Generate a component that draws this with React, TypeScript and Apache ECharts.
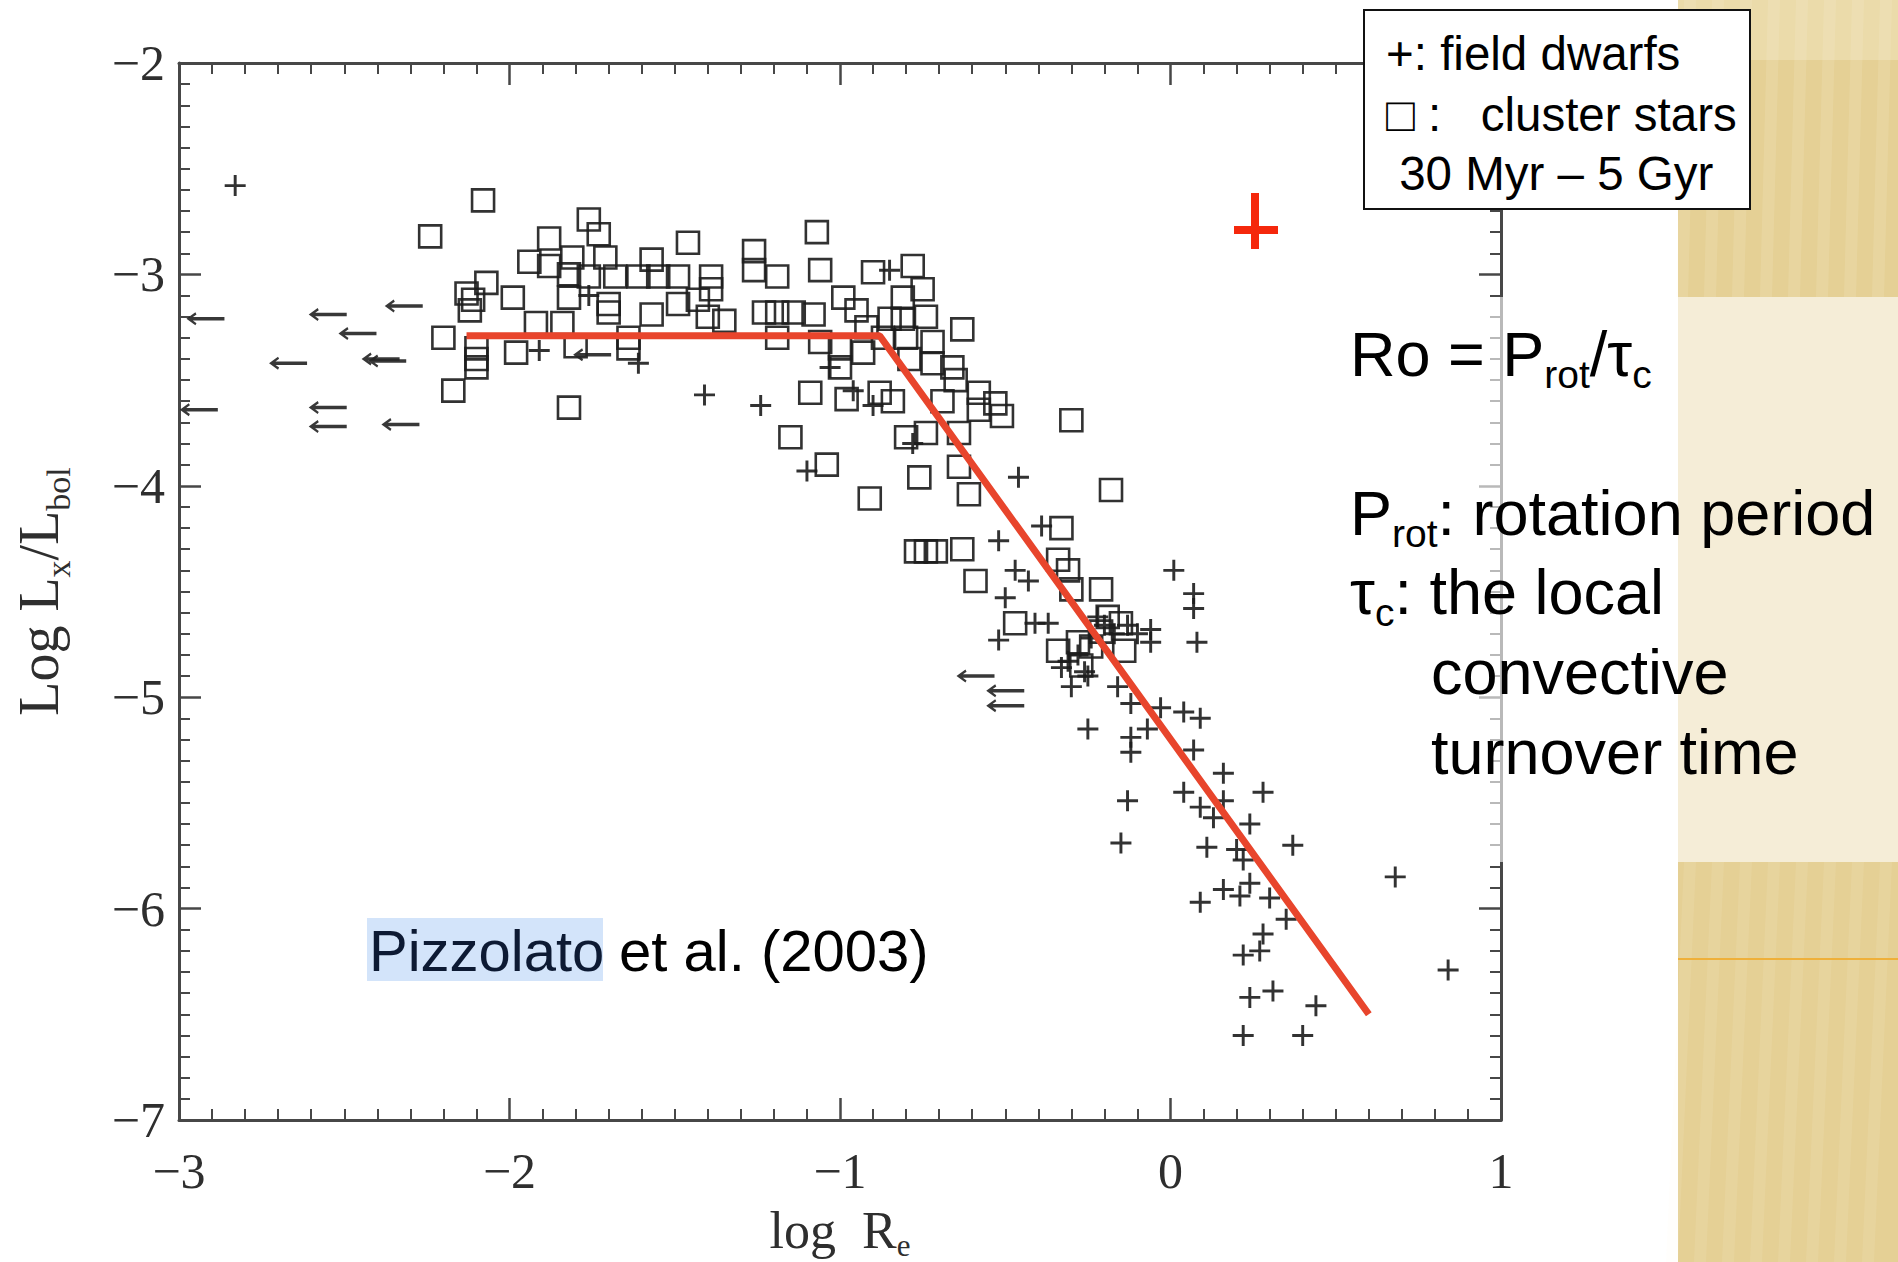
import React, { useEffect, useRef } from "react";
import * as echarts from "echarts";

// ---- data (log Ro, log Lx/Lbol) ----
const xTickValues = [-3, -2, -1, 0, 1];
const yTickValues = [-7, -6, -5, -4, -3, -2];

const clusterStars: [number, number][] = [
  [-2.08, -2.65], [-2.24, -2.82], [-1.88, -2.83], [-1.76, -2.74], [-1.73, -2.81], [-1.94, -2.94],
  [-1.88, -2.96], [-1.81, -2.92], [-1.71, -2.92], [-1.82, -3.0], [-1.76, -3.01], [-1.68, -3.01],
  [-1.57, -2.93], [-1.61, -3.01], [-1.55, -3.01], [-1.49, -3.01], [-1.46, -2.85], [-1.39, -3.01],
  [-2.07, -3.04], [-2.11, -3.12], [-2.12, -3.17], [-2.13, -3.09], [-1.99, -3.11], [-1.82, -3.11],
  [-1.7, -3.14], [-1.7, -3.18], [-1.57, -3.19], [-1.49, -3.14], [-1.43, -3.12], [-1.39, -3.07],
  [-1.4, -3.2], [-1.35, -3.22], [-1.26, -2.89], [-1.26, -2.98], [-1.19, -3.01], [-1.23, -3.18],
  [-1.19, -3.18], [-1.14, -3.18], [-1.19, -3.3], [-1.92, -3.23], [-1.84, -3.23], [-1.64, -3.3],
  [-1.64, -3.35], [-2.2, -3.3], [-2.1, -3.35], [-2.1, -3.4], [-2.1, -3.44], [-1.98, -3.37],
  [-1.8, -3.34], [-2.17, -3.55], [-1.82, -3.63], [-1.15, -3.77],
  [-1.07, -2.8], [-1.06, -2.98], [-0.9, -2.99], [-0.78, -2.96], [-0.75, -3.07], [-0.81, -3.11],
  [-1.08, -3.19], [-0.99, -3.11], [-0.85, -3.21], [-0.81, -3.21], [-0.74, -3.2], [-0.63, -3.26],
  [-0.8, -3.3], [-0.72, -3.32], [-1.06, -3.32], [-1.0, -3.35], [-0.93, -3.37], [-0.79, -3.4],
  [-0.72, -3.42], [-1.0, -3.44], [-0.66, -3.44], [-0.65, -3.5], [-1.09, -3.56], [-0.98, -3.59],
  [-0.88, -3.56], [-0.84, -3.6], [-0.69, -3.6], [-0.58, -3.56], [-0.53, -3.61], [-0.51, -3.67],
  [-0.58, -3.64], [-0.3, -3.69], [-0.8, -3.77], [-0.74, -3.75], [-0.64, -3.75], [-1.04, -3.9],
  [-0.76, -3.96], [-0.64, -3.91], [-0.91, -4.06], [-0.61, -4.04], [-0.18, -4.02], [-0.95, -3.17],
  [-0.92, -3.25], [-0.87, -3.3],
  [-0.33, -4.2], [-0.59, -4.45], [-0.34, -4.35], [-0.31, -4.4], [-0.3, -4.49], [-0.21, -4.49],
  [-0.47, -4.65], [-0.19, -4.62], [-0.15, -4.65], [-0.34, -4.78], [-0.28, -4.74], [-0.24, -4.76],
  [-0.14, -4.78], [-0.27, -4.85], [-0.21, -4.69], [-0.77, -4.31], [-0.74, -4.31], [-0.71, -4.31],
  [-0.63, -4.3],
];

const fieldDwarfs: [number, number][] = [
  [-2.83, -2.58], [-1.91, -3.36], [-1.76, -3.1], [-1.61, -3.42], [-1.41, -3.57], [-1.24, -3.62],
  [-1.1, -3.93], [-0.85, -2.98], [-1.03, -3.44], [-0.78, -3.8], [-0.96, -3.55], [-0.9, -3.62],
  [-0.46, -3.96], [-0.39, -4.19], [-0.52, -4.26], [-0.47, -4.4], [-0.43, -4.45], [-0.5, -4.53],
  [-0.52, -4.73], [-0.37, -4.65], [-0.41, -4.65], [-0.33, -4.86], [-0.3, -4.95], [-0.25, -4.9],
  [-0.06, -4.68], [-0.06, -4.74], [0.01, -4.4], [0.07, -4.51], [0.07, -4.58], [0.08, -4.74],
  [-0.16, -4.95], [-0.12, -5.03], [-0.03, -5.05], [0.04, -5.07], [0.09, -5.1], [-0.25, -5.15],
  [-0.07, -5.15], [-0.12, -5.19], [-0.12, -5.26], [0.07, -5.25], [0.16, -5.36], [-0.22, -4.62],
  [-0.2, -4.66], [-0.17, -4.7], [-0.24, -4.72], [-0.28, -4.8], [-0.31, -4.83], [-0.26, -4.88],
  [-0.13, -4.66], [-0.1, -4.7], [-0.13, -5.49], [0.04, -5.45], [0.09, -5.52], [0.13, -5.57],
  [0.16, -5.49], [0.28, -5.45], [0.24, -5.6], [-0.15, -5.69], [0.11, -5.71], [0.2, -5.72],
  [0.22, -5.77], [0.37, -5.7], [0.68, -5.85], [0.16, -5.91], [0.09, -5.97], [0.21, -5.94],
  [0.24, -5.88], [0.3, -5.95], [0.35, -6.05], [0.28, -6.12], [0.22, -6.22], [0.27, -6.2],
  [0.84, -6.29], [0.31, -6.39], [0.24, -6.42], [0.44, -6.46], [0.22, -6.6], [0.4, -6.6],
];

const upperLimits: [number, number][] = [
  [-2.92, -3.21], [-2.94, -3.64], [-2.67, -3.42], [-2.55, -3.19], [-2.46, -3.28], [-2.39, -3.4],
  [-2.37, -3.41], [-2.55, -3.63], [-2.55, -3.72], [-2.33, -3.71], [-2.32, -3.15], [-1.75, -3.38],
  [-0.59, -4.9], [-0.5, -4.97], [-0.5, -5.04],
];

const fitLine: [number, number][] = [
  [-2.13, -3.29], [-0.88, -3.29], [0.6, -6.5],
];

const legendLines = ["+: field dwarfs", "□ :   cluster stars", " 30 Myr – 5 Gyr"];
const citation = ["Pizzolato", " et al. (2003)"];

// ---- styling helpers ----
const SERIF = "'Liberation Serif', 'Times New Roman', serif";
const SANS = "'Liberation Sans', Arial, sans-serif";
const AXIS_COLOR = "#474747";
const MARK_COLOR = "#1c1c1c";

const fmt = (v: number) => (v < 0 ? "\u2212" + Math.abs(v) : String(v));

const PLUS = "path://M8.6,0H11.4V20H8.6ZM0,8.6H20V11.4H0Z";
const ARROW = "path://M0,5L8,0.2L9,1.8L3.6,5L9,8.2L8,9.8ZM2,3.7H34V6.3H2Z";

function buildAxis(kind: "x" | "y", pos: string, labels: boolean, ticks: number[]) {
  return {
    type: "value",
    position: pos,
    min: ticks[0],
    max: ticks[ticks.length - 1],
    interval: 1,
    axisLine: { show: true, onZero: false, lineStyle: { color: AXIS_COLOR, width: 3 } },
    axisTick: { show: true, inside: true, length: 22, lineStyle: { color: AXIS_COLOR, width: 2.5 } },
    minorTick: { show: true, splitNumber: 10, length: 11, lineStyle: { color: AXIS_COLOR, width: 2 } },
    splitLine: { show: false },
    axisLabel: labels
      ? {
          show: true,
          formatter: fmt,
          fontFamily: SERIF,
          fontSize: 50,
          color: "#2e2e2e",
          margin: kind === "x" ? 26 : 14,
        }
      : { show: false },
  };
}

export default function App() {
  const ref = useRef<HTMLDivElement>(null);

  useEffect(() => {
    const chart = echarts.init(ref.current as HTMLDivElement, undefined, { renderer: "svg" });

    const W = 1898;
    const panelX = 1678;
    const stripes: any[] = [];
    for (let i = 0; i < 8; i++) {
      const x0 = panelX + 6 + i * 28;
      stripes.push({
        type: "polygon",
        z: 1,
        silent: true,
        shape: { points: [[x0, 0], [x0 + 12, 0], [x0 + 4, 297], [x0 - 8, 297]] },
        style: { fill: "rgba(255,250,230,0.13)" },
      });
      stripes.push({
        type: "polygon",
        z: 1,
        silent: true,
        shape: { points: [[x0, 862], [x0 + 12, 862], [x0 - 6, 1262], [x0 - 18, 1262]] },
        style: { fill: "rgba(255,250,230,0.11)" },
      });
    }

    const subRich = (main: number, sub: number, drop: number, font: string, color: string) => ({
      a: { fontSize: main, fontFamily: font, fill: color, color, lineHeight: main + drop * 2 },
      s: {
        fontSize: sub,
        fontFamily: font,
        fill: color,
        color,
        lineHeight: sub,
        padding: [main + drop * 2 - sub, 0, 0, 0],
      },
    });

    const bigRich = subRich(63, 39, 8, SANS, "#000");

    const textEl = (x: number, y: number, text: string, rich?: any, extra?: any) => ({
      type: "text",
      x,
      y,
      z: 30,
      silent: true,
      style: Object.assign(
        {
          text,
          fill: "#000",
          fontFamily: SANS,
          fontSize: 63,
          align: "left",
          verticalAlign: "middle",
          textAlign: "left",
          textVerticalAlign: "middle",
        },
        rich ? { rich } : {},
        extra || {}
      ),
    });

    const option: any = {
      animation: false,
      backgroundColor: "#ffffff",
      grid: {
        left: 179,
        top: 63,
        width: 1322,
        height: 1057,
        containLabel: false,
        outerBoundsMode: "none",
      },
      xAxis: [
        Object.assign(buildAxis("x", "bottom", true, xTickValues), {
          name: "{a|log  R}{s|e}",
          nameLocation: "middle",
          nameGap: 76,
          nameTextStyle: {
            fontFamily: SERIF,
            fontSize: 52,
            color: "#2e2e2e",
            rich: subRich(52, 31, 4, SERIF, "#2e2e2e"),
          },
        }),
        buildAxis("x", "top", false, xTickValues),
      ],
      yAxis: [
        Object.assign(buildAxis("y", "left", true, yTickValues), {
          name: "{a|Log L}{s|x}{a|/L}{s|bol}",
          nameLocation: "middle",
          nameRotate: 90,
          nameGap: 104,
          nameTextStyle: {
            fontFamily: SERIF,
            fontSize: 56,
            color: "#2e2e2e",
            rich: subRich(56, 34, 8, SERIF, "#2e2e2e"),
          },
        }),
        buildAxis("y", "right", false, yTickValues),
      ],
      series: [
        {
          type: "scatter",
          name: "cluster stars",
          data: clusterStars,
          symbol: "rect",
          symbolSize: 22,
          z: 3,
          itemStyle: { color: "rgba(0,0,0,0)", borderColor: MARK_COLOR, borderWidth: 2.6, opacity: 0.9 },
          silent: true,
        },
        {
          type: "scatter",
          name: "field dwarfs",
          data: fieldDwarfs,
          symbol: PLUS,
          symbolSize: 21,
          z: 3,
          itemStyle: { color: MARK_COLOR, opacity: 0.9 },
          silent: true,
        },
        {
          type: "scatter",
          name: "upper limits",
          data: upperLimits,
          symbol: ARROW,
          symbolSize: [38, 13],
          z: 3,
          itemStyle: { color: "#222", opacity: 0.9 },
          silent: true,
        },
        {
          type: "line",
          name: "fit",
          data: fitLine,
          symbol: "none",
          z: 4,
          lineStyle: { color: "#e8452c", width: 7 },
          silent: true,
        },
      ],
      graphic: [
        // decorative right panel
        {
          type: "rect",
          z: 0,
          silent: true,
          shape: { x: panelX, y: 0, width: W - panelX, height: 1262 },
          style: { fill: "#e5d095" },
        },
        {
          type: "rect",
          z: 0,
          silent: true,
          shape: { x: panelX, y: 0, width: W - panelX, height: 60 },
          style: { fill: "rgba(255,250,235,0.25)" },
        },
        ...stripes,
        {
          type: "line",
          z: 2,
          silent: true,
          shape: { x1: panelX, y1: 959, x2: W, y2: 959 },
          style: { stroke: "#efb03a", lineWidth: 2 },
        },
        // translucent text box
        {
          type: "rect",
          z: 10,
          silent: true,
          shape: { x: 1338, y: 297, width: W - 1338, height: 565 },
          style: { fill: "rgba(255,255,255,0.62)" },
        },
        // legend box
        {
          type: "rect",
          z: 20,
          silent: true,
          shape: { x: 1364, y: 10, width: 386, height: 199 },
          style: { fill: "#ffffff", stroke: "#111", lineWidth: 2 },
        },
        textEl(1386, 53, legendLines[0], undefined, { fontSize: 47.5 }),
        textEl(1386, 114, legendLines[1], undefined, { fontSize: 47.5 }),
        textEl(1386, 173, legendLines[2], undefined, { fontSize: 47.5 }),
        // red plus marker
        {
          type: "rect",
          z: 30,
          silent: true,
          shape: { x: 1251, y: 193, width: 8, height: 56 },
          style: { fill: "#f5280c" },
        },
        {
          type: "rect",
          z: 30,
          silent: true,
          shape: { x: 1234, y: 226, width: 44, height: 8 },
          style: { fill: "#f5280c" },
        },
        // definitions
        textEl(1350, 354, "{a|Ro = P}{s|rot}{a|/τ}{s|c}", bigRich),
        textEl(1350, 513, "{a|P}{s|rot}{a|: rotation period}", bigRich),
        textEl(1350, 592, "{a|τ}{s|c}{a|: the local}", bigRich),
        textEl(1431, 672, "convective"),
        textEl(1431, 752, "turnover time"),
        // citation with highlight
        {
          type: "rect",
          z: 25,
          silent: true,
          shape: { x: 367, y: 918, width: 236, height: 63 },
          style: { fill: "#d3e4fa" },
        },
        textEl(369, 950, citation[0], undefined, { fontSize: 58, fill: "#0d1a33" }),
        textEl(603, 950, citation[1], undefined, { fontSize: 58 }),
      ],
    };

    chart.setOption(option);
    return () => chart.dispose();
  }, []);

  return (
    <div
      ref={ref}
      style={{ position: "fixed", left: 0, top: 0, width: 1898, height: 1262, background: "#fff" }}
    />
  );
}
